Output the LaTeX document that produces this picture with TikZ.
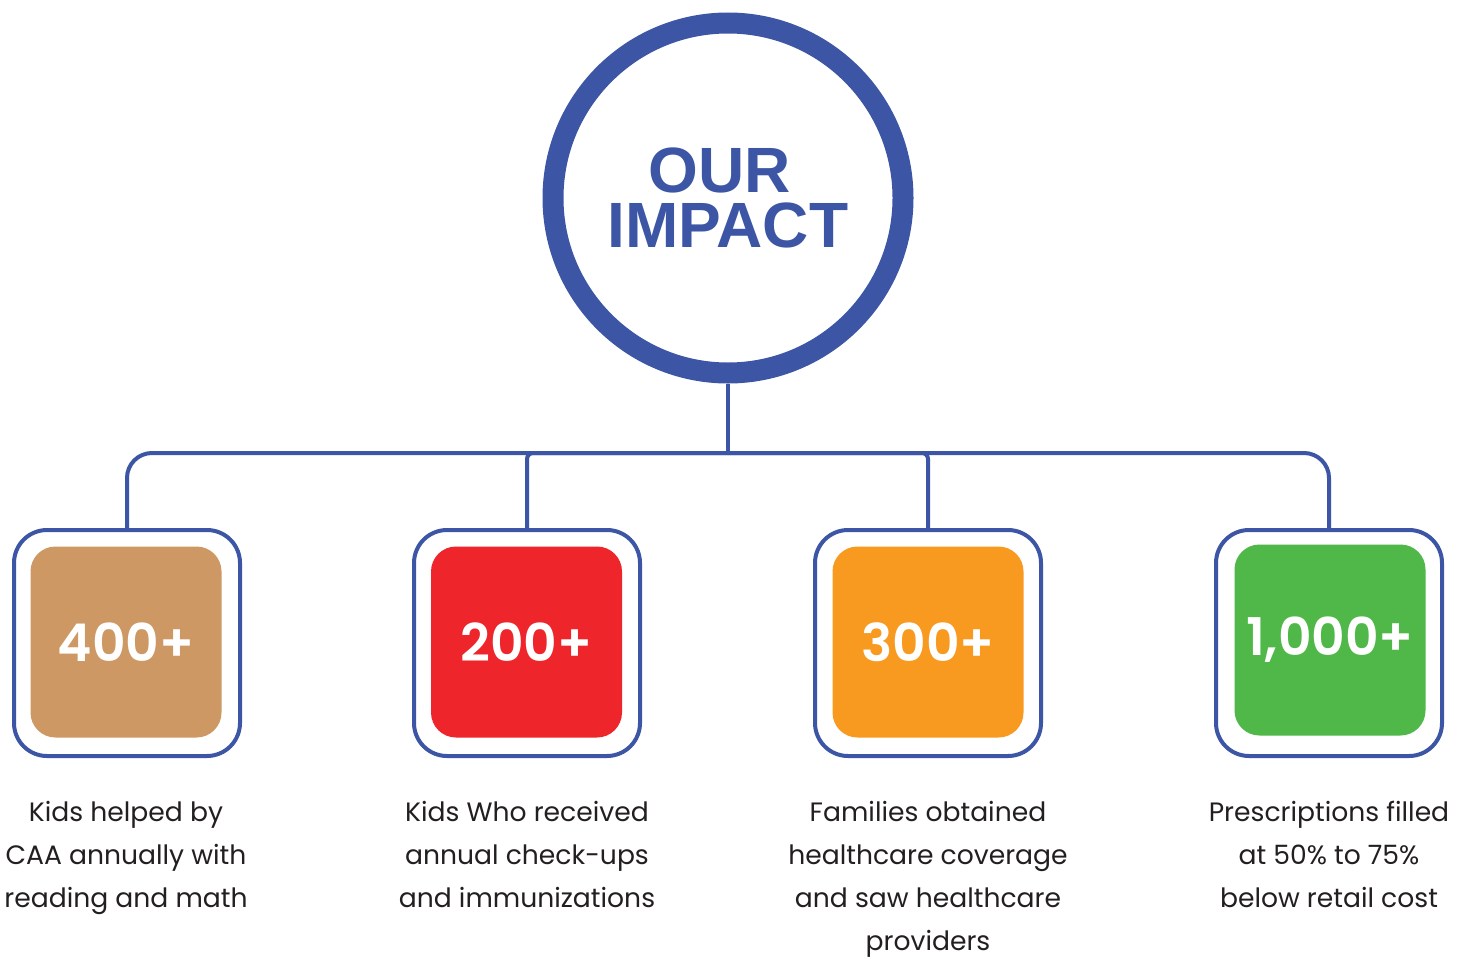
\documentclass[tikz,border=0pt]{standalone}
\usepackage{fontspec}
\setmainfont{Poppins}
\newfontfamily\numfont{Poppins SemiBold}
\newfontfamily\headfont{Liberation Sans}
\usetikzlibrary{positioning}
\definecolor{ringblue}{HTML}{3C56A5}
\definecolor{tan}{HTML}{CD9863}
\definecolor{redbox}{HTML}{EE262C}
\definecolor{orangebox}{HTML}{F79A1F}
\definecolor{greenbox}{HTML}{4FB849}
\definecolor{bodytext}{HTML}{231F20}
\tikzset{
  hub/.style={circle, draw=ringblue, line width=10.5pt, minimum size=175pt, fill=white,
    font=\headfont\bfseries\fontsize{32}{27.5}\selectfont, text=ringblue, align=center, inner sep=0pt},
  frame/.style={draw=ringblue, line width=2pt, rounded corners=16.5pt, minimum width=113pt, minimum height=113pt, fill=white, inner sep=0pt},
  tile/.style={rounded corners=12.5pt, minimum width=95.5pt, minimum height=95.5pt, inner sep=0pt,
    text=white, font=\numfont\fontsize{26}{30}\selectfont},
  conn/.style={draw=ringblue, line width=2pt},
  caption/.style={anchor=north, align=center, inner sep=0pt, text=bodytext,
    font=\fontsize{13.3}{21.5}\selectfont}
}
\begin{document}
\begin{tikzpicture}[x=0.5pt, y=-0.5pt]
\useasboundingbox (0,0) rectangle (1471,958);
\node[hub] (c) at (728,198) {\hspace*{-8pt}OUR\\IMPACT};
\coordinate (h) at (728,453);
\node[frame] (b1) at (127,643) {};
\node[frame] (b2) at (527,643) {};
\node[frame] (b3) at (928,643) {};
\node[frame] (b4) at (1329,643) {};
\node[tile, fill=tan] (t1) at (126,642) {400+};
\node[tile, fill=redbox] (t2) at (526.5,642) {200+};
\node[tile, fill=orangebox] (t3) at (928,642) {300+};
\node[tile, fill=greenbox] (t4) at (1330,640) {1,000+};
\draw[conn] (c.south) -- (h);
\draw[conn, rounded corners=12.5pt] (h) -| (b1.north);
\draw[conn, rounded corners=12.5pt] (h) -| (b4.north);
\draw[conn, rounded corners=3pt] (h) -| (b2.north);
\draw[conn, rounded corners=3pt] (h) -| (b3.north);
\node[caption] (l1) at (126,801) {Kids helped by\\CAA annually with\\reading and math};
\node[caption] (l2) at (527,801) {Kids Who received\\annual check-ups\\and immunizations};
\node[caption] (l3) at (928,801) {Families obtained\\healthcare coverage\\and saw healthcare\\providers};
\node[caption] (l4) at (1329,801) {Prescriptions filled\\at 50\% to 75\%\\below retail cost};
\end{tikzpicture}
\end{document}
